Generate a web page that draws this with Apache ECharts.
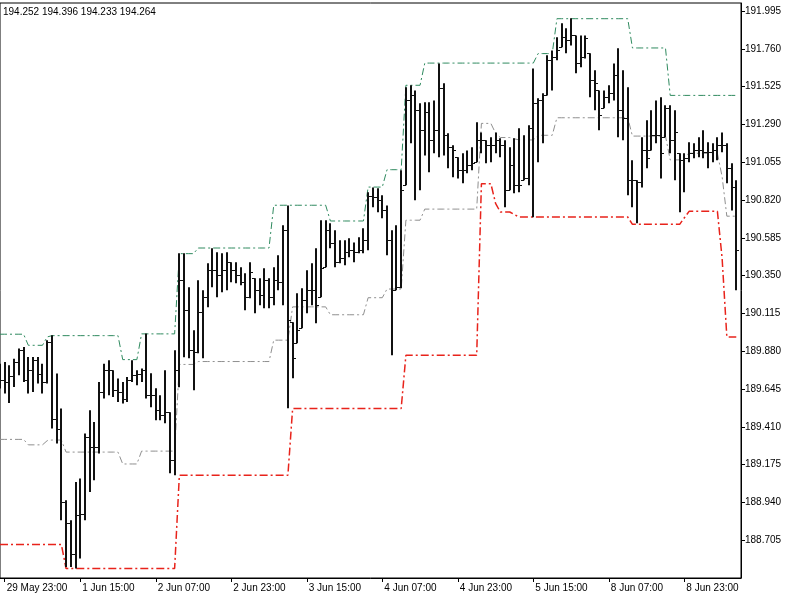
<!DOCTYPE html>
<html>
<head>
<meta charset="utf-8">
<script src="https://cdn.jsdelivr.net/npm/echarts@6/dist/echarts.min.js"></script>
<style>
  html, body { margin: 0; padding: 0; background: #fff; }
  #chart { width: 800px; height: 600px; }
</style>
</head>
<body>
<div id="chart"></div>
<script>
// H1 bars, index 0 = 29 May 22:00 (weekend skipped)
const quoteText = '194.252 194.396 194.233 194.264'
const yTicks = { min: 188.47, max: 192.0456, step: 0.235 }

const opens = [
  189.720, 189.700, 189.689, 189.724, 189.813, 189.886, 189.704, 189.766, 189.824, 189.741,
  189.689, 189.938, 189.461, 189.399, 188.943, 188.809, 188.622, 188.860, 188.871, 189.347,
  189.285, 189.285, 189.627, 189.762, 189.762, 189.637, 189.627, 189.586, 189.700, 189.731,
  189.741, 189.762, 189.606, 189.606, 189.513, 189.482, 189.501, 189.202, 189.762, 190.321,
  190.135, 189.886, 189.874, 190.122, 190.216, 190.383, 190.383, 190.352, 190.383, 190.433,
  190.383, 190.352, 190.309, 190.216, 190.334, 190.259, 190.228, 190.321, 190.216, 190.321,
  190.309, 190.632, 190.060, 189.930, 190.023, 190.197, 190.259, 190.259, 190.216, 190.402,
  190.632, 190.551, 190.433, 190.458, 190.495, 190.508, 190.495, 190.508, 190.570, 190.843,
  190.837, 190.819, 190.756, 190.570, 190.259, 190.280, 190.912, 191.440, 191.471, 191.378,
  191.254, 191.366, 191.192, 191.254, 191.515, 191.223, 191.148, 191.086, 191.005, 191.005,
  191.036, 191.055, 191.192, 191.192, 191.161, 191.161, 191.192, 191.161, 190.881, 191.036,
  190.912, 190.943, 190.960, 191.266, 191.422, 191.440, 191.471, 191.689, 191.708, 191.770,
  191.832, 191.813, 191.844, 191.670, 191.708, 191.733, 191.565, 191.502, 191.391, 191.459,
  191.484, 191.596, 191.378, 191.328, 190.943, 190.943, 190.931, 191.129, 191.129, 191.223,
  191.223, 191.210, 191.391, 191.192, 191.111, 191.067, 191.080, 191.111, 191.129, 191.129,
  191.117, 191.117, 191.129, 191.161, 191.161, 191.018, 190.899
]
const highs = [
  189.803, 189.813, 189.793, 189.834, 189.897, 189.907, 189.844, 189.844, 189.844, 189.803,
  189.948, 189.979, 189.741, 189.524, 188.954, 188.829, 189.067, 189.088, 189.368, 189.513,
  189.440, 189.689, 189.803, 189.824, 189.762, 189.710, 189.689, 189.720, 189.824, 189.762,
  189.772, 189.990, 189.743, 189.650, 189.606, 189.762, 189.501, 189.886, 190.489, 190.489,
  190.278, 190.010, 190.321, 190.259, 190.427, 190.520, 190.495, 190.489, 190.495, 190.433,
  190.433, 190.402, 190.365, 190.433, 190.334, 190.334, 190.396, 190.334, 190.402, 190.477,
  190.663, 190.787, 190.060, 190.240, 190.272, 190.383, 190.427, 190.520, 190.694, 190.694,
  190.676, 190.632, 190.570, 190.570, 190.582, 190.557, 190.589, 190.645, 190.868, 190.899,
  190.893, 190.850, 190.787, 190.632, 190.663, 191.005, 191.521, 191.534, 191.502, 191.422,
  191.428, 191.428, 191.440, 191.670, 191.546, 191.235, 191.161, 191.086, 191.111, 191.129,
  191.148, 191.304, 191.241, 191.192, 191.210, 191.241, 191.204, 191.192, 191.148, 191.204,
  191.266, 191.223, 191.285, 191.639, 191.453, 191.484, 191.720, 191.751, 191.832, 191.919,
  191.888, 191.950, 191.844, 191.844, 191.844, 191.733, 191.627, 191.502, 191.502, 191.534,
  191.670, 191.764, 191.627, 191.521, 191.067, 190.943, 191.210, 191.316, 191.378, 191.440,
  191.459, 191.409, 191.409, 191.378, 191.111, 191.111, 191.179, 191.173, 191.210, 191.254,
  191.179, 191.173, 191.210, 191.241, 191.173, 191.049, 190.943
]
const lows = [
  189.648, 189.617, 189.559, 189.658, 189.731, 189.689, 189.617, 189.627, 189.679, 189.617,
  189.679, 189.399, 189.306, 188.829, 188.539, 188.539, 188.529, 188.591, 188.829, 189.005,
  189.078, 189.244, 189.586, 189.606, 189.596, 189.565, 189.555, 189.565, 189.689, 189.669,
  189.689, 189.586, 189.532, 189.451, 189.451, 189.432, 189.121, 189.109, 189.656, 189.843,
  189.836, 189.637, 189.867, 189.836, 190.153, 190.278, 190.216, 190.247, 190.259, 190.309,
  190.303, 190.290, 190.135, 190.209, 190.116, 190.166, 190.147, 190.147, 190.166, 190.259,
  190.166, 189.525, 189.712, 189.930, 190.023, 190.116, 190.166, 190.054, 190.216, 190.402,
  190.520, 190.402, 190.427, 190.415, 190.464, 190.433, 190.489, 190.489, 190.508, 190.775,
  190.744, 190.707, 190.477, 189.855, 190.259, 190.272, 190.912, 191.173, 190.819, 190.881,
  191.098, 190.993, 191.111, 191.086, 191.098, 191.018, 190.962, 190.955, 190.924, 190.987,
  191.005, 191.055, 191.111, 191.049, 191.055, 191.111, 191.086, 190.775, 190.881, 190.862,
  190.868, 190.943, 190.912, 190.713, 191.055, 191.173, 191.471, 191.502, 191.689, 191.770,
  191.733, 191.782, 191.608, 191.646, 191.701, 191.459, 191.378, 191.254, 191.391, 191.422,
  191.440, 191.210, 191.192, 190.850, 190.775, 190.676, 190.899, 191.018, 191.129, 191.173,
  190.955, 191.210, 191.111, 190.943, 190.744, 190.868, 191.055, 191.080, 191.086, 191.080,
  191.018, 191.055, 191.067, 191.117, 190.924, 190.756, 190.259
]
const closes = [
  189.700, 189.689, 189.724, 189.813, 189.886, 189.704, 189.766, 189.824, 189.741, 189.689,
  189.938, 189.461, 189.399, 188.943, 188.809, 188.622, 188.860, 188.871, 189.347, 189.285,
  189.285, 189.627, 189.762, 189.762, 189.637, 189.627, 189.586, 189.700, 189.731, 189.741,
  189.762, 189.606, 189.606, 189.513, 189.482, 189.501, 189.202, 189.762, 190.321, 190.135,
  189.886, 189.874, 190.122, 190.216, 190.383, 190.383, 190.352, 190.383, 190.433, 190.383,
  190.352, 190.309, 190.216, 190.371, 190.259, 190.228, 190.321, 190.216, 190.321, 190.309,
  190.632, 190.073, 189.836, 190.010, 190.197, 190.259, 190.259, 190.166, 190.396, 190.632,
  190.551, 190.433, 190.458, 190.495, 190.508, 190.495, 190.508, 190.570, 190.843, 190.837,
  190.819, 190.756, 190.570, 190.259, 190.280, 190.881, 191.440, 191.471, 191.378, 191.254,
  191.366, 191.192, 191.254, 191.515, 191.223, 191.148, 191.129, 191.005, 191.005, 191.036,
  191.049, 191.192, 191.192, 191.161, 191.161, 191.192, 191.161, 190.881, 191.036, 190.912,
  190.912, 190.960, 191.266, 191.422, 191.440, 191.471, 191.689, 191.708, 191.751, 191.832,
  191.813, 191.844, 191.670, 191.708, 191.826, 191.565, 191.546, 191.347, 191.459, 191.484,
  191.596, 191.378, 191.328, 190.943, 190.943, 190.931, 191.129, 191.080, 191.223, 191.223,
  191.111, 191.391, 191.192, 191.241, 191.067, 191.080, 191.111, 191.129, 191.129, 191.117,
  191.117, 191.129, 191.161, 191.161, 191.018, 190.899, 190.508
]

// channel lines (upper / lower / middle), one value per bar
const upperBand = [
  189.986, 189.986, 189.986, 189.986, 189.986, 189.986, 189.917, 189.917, 189.917, 189.917,
  189.969, 189.977, 189.977, 189.977, 189.977, 189.977, 189.977, 189.977, 189.977, 189.977,
  189.977, 189.977, 189.977, 189.977, 189.977, 189.977, 189.828, 189.828, 189.828, 189.828,
  189.988, 189.988, 189.988, 189.988, 189.988, 189.988, 189.988, 189.988, 190.487, 190.487,
  190.487, 190.487, 190.522, 190.522, 190.522, 190.522, 190.522, 190.522, 190.522, 190.522,
  190.522, 190.522, 190.522, 190.522, 190.522, 190.522, 190.522, 190.522, 190.788, 190.788,
  190.788, 190.788, 190.788, 190.788, 190.788, 190.788, 190.788, 190.788, 190.788, 190.788,
  190.690, 190.690, 190.690, 190.690, 190.690, 190.690, 190.690, 190.690, 190.901, 190.901,
  190.901, 190.901, 191.009, 191.009, 191.009, 191.009, 191.534, 191.534, 191.534, 191.534,
  191.672, 191.672, 191.672, 191.672, 191.672, 191.672, 191.672, 191.672, 191.672, 191.672,
  191.672, 191.672, 191.672, 191.672, 191.672, 191.672, 191.672, 191.672, 191.672, 191.672,
  191.672, 191.672, 191.672, 191.672, 191.731, 191.731, 191.731, 191.731, 191.948, 191.948,
  191.948, 191.948, 191.948, 191.948, 191.948, 191.948, 191.948, 191.948, 191.948, 191.948,
  191.948, 191.948, 191.948, 191.948, 191.766, 191.766, 191.766, 191.766, 191.766, 191.766,
  191.766, 191.766, 191.471, 191.471, 191.471, 191.471, 191.471, 191.471, 191.471, 191.471,
  191.471, 191.471, 191.471, 191.471, 191.471, 191.471, 191.471
]
const lowerBand = [
  188.678, 188.678, 188.678, 188.678, 188.678, 188.678, 188.678, 188.678, 188.678, 188.678,
  188.678, 188.678, 188.678, 188.678, 188.529, 188.529, 188.529, 188.529, 188.529, 188.529,
  188.529, 188.529, 188.529, 188.529, 188.529, 188.529, 188.529, 188.529, 188.529, 188.529,
  188.529, 188.529, 188.529, 188.529, 188.529, 188.529, 188.529, 188.529, 189.109, 189.109,
  189.109, 189.109, 189.109, 189.109, 189.109, 189.109, 189.109, 189.109, 189.109, 189.109,
  189.109, 189.109, 189.109, 189.109, 189.109, 189.109, 189.109, 189.109, 189.109, 189.109,
  189.109, 189.109, 189.524, 189.524, 189.524, 189.524, 189.524, 189.524, 189.524, 189.524,
  189.524, 189.524, 189.524, 189.524, 189.524, 189.524, 189.524, 189.524, 189.524, 189.524,
  189.524, 189.524, 189.524, 189.524, 189.524, 189.524, 189.855, 189.855, 189.855, 189.855,
  189.855, 189.855, 189.855, 189.855, 189.855, 189.855, 189.855, 189.855, 189.855, 189.855,
  189.855, 189.855, 190.922, 190.922, 190.922, 190.800, 190.746, 190.746, 190.746, 190.730,
  190.715, 190.715, 190.715, 190.715, 190.715, 190.715, 190.715, 190.715, 190.715, 190.715,
  190.715, 190.715, 190.715, 190.715, 190.715, 190.715, 190.715, 190.715, 190.715, 190.715,
  190.715, 190.715, 190.715, 190.715, 190.669, 190.669, 190.669, 190.669, 190.669, 190.669,
  190.669, 190.669, 190.669, 190.669, 190.669, 190.710, 190.750, 190.750, 190.750, 190.750,
  190.750, 190.750, 190.750, 190.458, 189.969, 189.969, 189.969
]
const middleBand = [
  189.332, 189.332, 189.332, 189.332, 189.332, 189.332, 189.298, 189.298, 189.298, 189.298,
  189.324, 189.328, 189.328, 189.328, 189.253, 189.253, 189.253, 189.253, 189.253, 189.253,
  189.253, 189.253, 189.253, 189.253, 189.253, 189.253, 189.179, 189.179, 189.179, 189.179,
  189.259, 189.259, 189.259, 189.259, 189.259, 189.259, 189.259, 189.259, 189.798, 189.798,
  189.798, 189.798, 189.816, 189.816, 189.816, 189.816, 189.816, 189.816, 189.816, 189.816,
  189.816, 189.816, 189.816, 189.816, 189.816, 189.816, 189.816, 189.816, 189.949, 189.949,
  189.949, 189.949, 190.156, 190.156, 190.156, 190.156, 190.156, 190.156, 190.156, 190.156,
  190.107, 190.107, 190.107, 190.107, 190.107, 190.107, 190.107, 190.107, 190.213, 190.213,
  190.213, 190.213, 190.267, 190.267, 190.267, 190.267, 190.695, 190.695, 190.695, 190.695,
  190.764, 190.764, 190.764, 190.764, 190.764, 190.764, 190.764, 190.764, 190.764, 190.764,
  190.764, 190.764, 191.297, 191.297, 191.297, 191.236, 191.209, 191.209, 191.209, 191.201,
  191.194, 191.194, 191.194, 191.194, 191.223, 191.223, 191.223, 191.223, 191.332, 191.332,
  191.332, 191.332, 191.332, 191.332, 191.332, 191.332, 191.332, 191.332, 191.332, 191.332,
  191.332, 191.332, 191.332, 191.332, 191.218, 191.218, 191.218, 191.218, 191.218, 191.218,
  191.218, 191.218, 191.070, 191.070, 191.070, 191.091, 191.111, 191.111, 191.111, 191.111,
  191.111, 191.111, 191.111, 190.965, 190.720, 190.720, 190.720
]

// time categories: hourly, weekend skipped, one empty slot on the right
const months = ['Jan', 'Feb', 'Mar', 'Apr', 'May', 'Jun', 'Jul', 'Aug', 'Sep', 'Oct', 'Nov', 'Dec']
const categories = []
let t = Date.UTC(2020, 4, 29, 22)
while (categories.length < opens.length + 1) {
  const d = new Date(t)
  const wd = d.getUTCDay()
  if (wd !== 0 && wd !== 6) {
    const hh = String(d.getUTCHours()).padStart(2, '0')
    categories.push(d.getUTCDate() + ' ' + months[d.getUTCMonth()] + ' ' + hh + ':00')
  }
  t += 3600 * 1000
}

const ohlc = opens.map((o, i) => [i, o, highs[i], lows[i], closes[i]])
const showTick = (idx) => (idx - 1) % 16 === 0
const font = 'Liberation Sans'

const chart = echarts.init(document.getElementById('chart'))
chart.setOption({
  animation: false,
  backgroundColor: '#fff',
  graphic: [{
    type: 'text', left: 3, top: 7, z: 100,
    style: { text: quoteText, font: '10px "Liberation Sans"', fill: '#000' }
  }],
  grid: { left: 0, right: 59, top: 3, bottom: 22, show: true, borderColor: '#000', borderWidth: 1 },
  xAxis: {
    type: 'category',
    data: categories,
    boundaryGap: false,
    axisLine: { lineStyle: { color: '#000', width: 1 } },
    axisTick: { interval: showTick, length: 4, lineStyle: { color: '#000' } },
    axisLabel: {
      interval: showTick, align: 'left', margin: 5, padding: [0, 0, 0, 2],
      color: '#000', fontSize: 10, fontFamily: font
    },
    splitLine: { show: false }
  },
  yAxis: {
    type: 'value',
    position: 'right',
    min: yTicks.min,
    max: yTicks.max,
    interval: yTicks.step,
    scale: true,
    axisLine: { show: true, lineStyle: { color: '#000', width: 1 } },
    axisTick: { show: true, length: 4, lineStyle: { color: '#000' } },
    axisLabel: {
      color: '#000', fontSize: 10, fontFamily: font, margin: 4,
      showMinLabel: false, showMaxLabel: false,
      formatter: (v) => v.toFixed(3)
    },
    splitLine: { show: false }
  },
  series: [
    {
      name: 'upper', type: 'line', data: upperBand, symbol: 'none', z: 2,
      lineStyle: { color: '#2f8a5f', width: 1, type: [7, 3, 2, 3] }
    },
    {
      name: 'middle', type: 'line', data: middleBand, symbol: 'none', z: 2,
      lineStyle: { color: '#8f8f8f', width: 1, type: [7, 3, 2, 3] }
    },
    {
      name: 'lower', type: 'line', data: lowerBand, symbol: 'none', z: 2,
      lineStyle: { color: '#e8231b', width: 1.5, type: [8, 3, 2, 3] }
    },
    {
      name: 'bars', type: 'custom', z: 3,
      data: ohlc,
      encode: { x: 0, y: [1, 2, 3, 4] },
      renderItem: function (params, api) {
        const i = api.value(0)
        const pO = api.coord([i, api.value(1)])
        const pH = api.coord([i, api.value(2)])
        const pL = api.coord([i, api.value(3)])
        const pC = api.coord([i, api.value(4)])
        const cx = Math.round(pO[0])
        const yo = Math.round(pO[1]) + 0.5
        const yc = Math.round(pC[1]) + 0.5
        return {
          type: 'group',
          children: [
            { type: 'line', shape: { x1: cx, y1: pH[1], x2: cx, y2: pL[1] }, style: { stroke: '#111', lineWidth: 2 } },
            { type: 'line', shape: { x1: cx - 3, y1: yo, x2: cx, y2: yo }, style: { stroke: '#111', lineWidth: 1 } },
            { type: 'line', shape: { x1: cx, y1: yc, x2: cx + 3, y2: yc }, style: { stroke: '#111', lineWidth: 1 } }
          ]
        }
      }
    }
  ]
})
</script>
</body>
</html>
